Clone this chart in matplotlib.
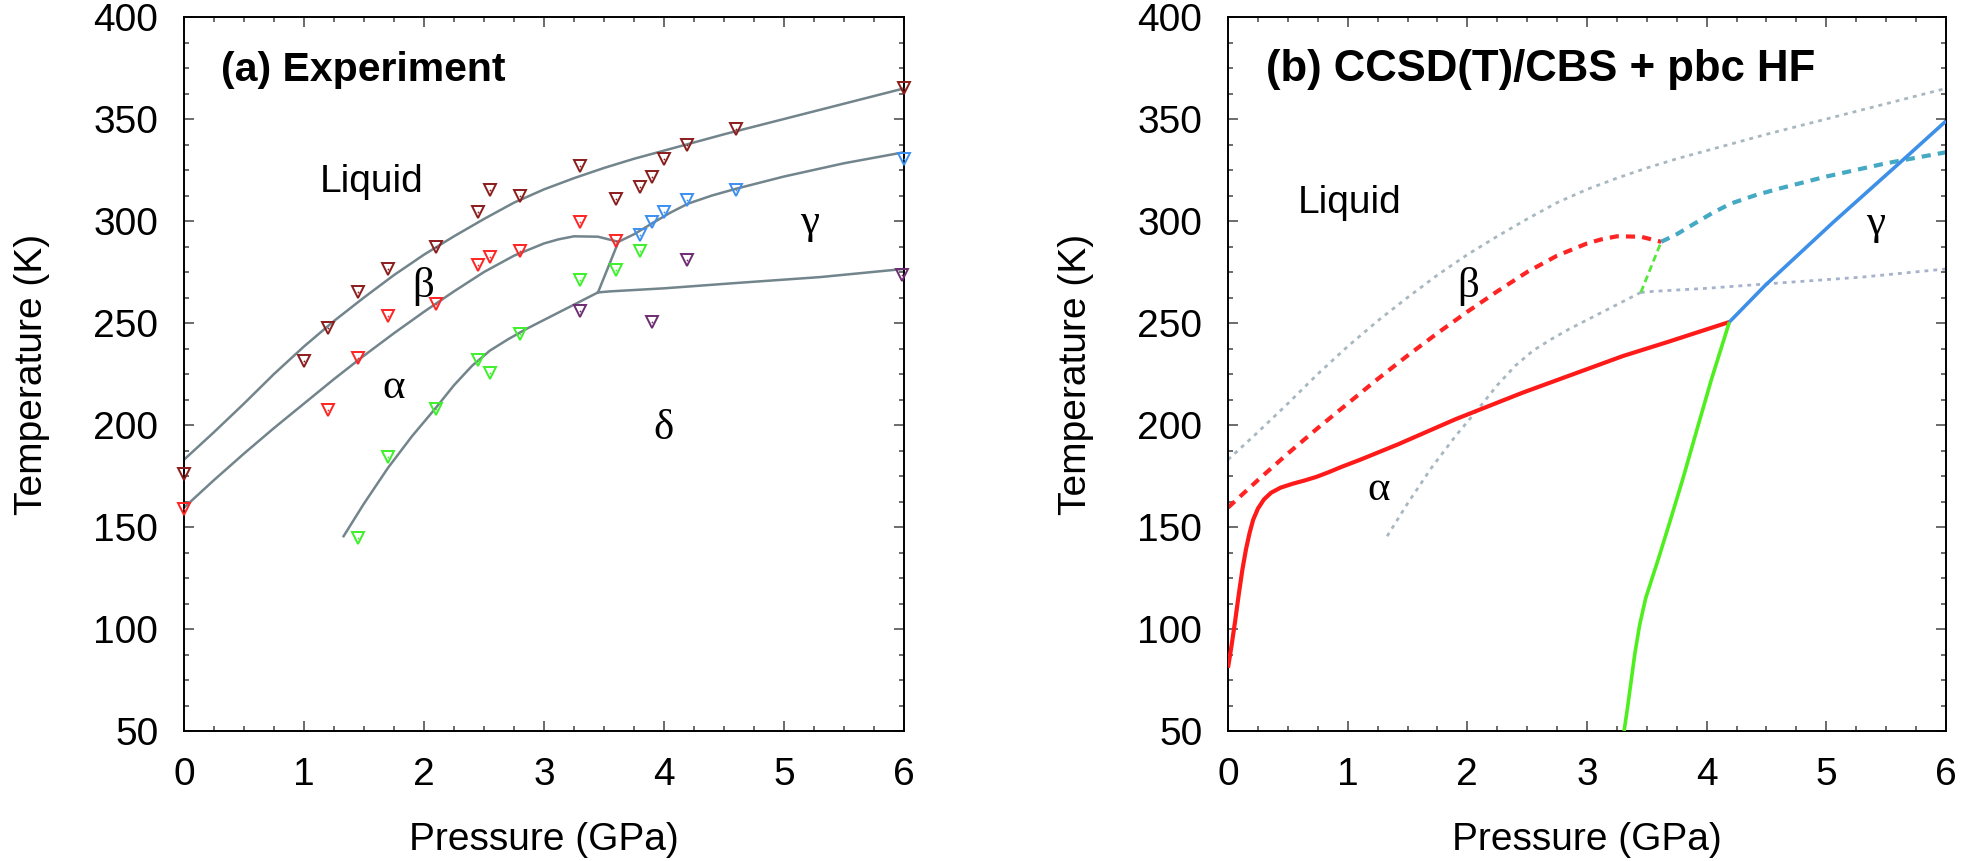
import numpy as np
import matplotlib.pyplot as plt
from matplotlib.ticker import MultipleLocator

# ---- experimental phase boundaries (P in GPa, T in K) ----
liq_P = [0.0, 0.25, 0.5, 0.75, 1.0, 1.25, 1.5, 1.75, 2.0, 2.25, 2.5, 2.75, 3.0,
         3.25, 3.5, 3.75, 4.0, 4.25, 4.5, 5.0, 5.5, 6.0]
liq_T = [183, 196.5, 210.5, 225, 238.5, 251, 262.5, 273.5, 283.5, 292.5, 301, 309, 315.5,
         321, 326, 330.5, 334.5, 338.5, 342.5, 350, 357.5, 365]

beta_P = [0.0, 0.25, 0.5, 0.75, 1.0, 1.25, 1.5, 1.75, 2.0, 2.25, 2.5, 2.75, 3.0, 3.12, 3.25, 3.45, 3.62]
beta_T = [159.5, 173, 186, 198.5, 210.5, 222.5, 234, 245, 255.5, 265.5, 275, 283, 289, 291, 292.5, 292.3, 289.8]

gam_P = [3.62, 3.75, 3.9, 4.05, 4.2, 4.4, 4.6, 5.0, 5.5, 6.0]
gam_T = [289.8, 293.5, 298.8, 304, 308.5, 312.5, 315.8, 321.8, 328.3, 333.7]

alp_P = [1.33, 1.5, 1.7, 1.9, 2.1, 2.25, 2.4, 2.55, 2.7, 2.85, 3.0, 3.15, 3.3, 3.45]
alp_T = [145.5, 161.5, 179, 194.5, 208.5, 219.5, 229, 236.5, 242, 247, 251.5, 256, 260.5, 265]

del_P = [3.45, 3.62]
del_T = [265, 289.8]

hor_P = [3.45, 3.55, 4.0, 4.6, 5.3, 6.0]
hor_T = [265, 265.5, 267, 269.6, 272.5, 276.5]

# ---- experimental points ----
dred_P = [6.0, 4.6, 4.19, 4.0, 3.9, 3.8, 3.6, 3.3, 2.8, 2.55, 2.45, 2.1, 1.7, 1.45, 1.2, 1.0, 0.0]
dred_T = [365, 345.3, 337.1, 330.4, 321.4, 316.5, 310.9, 327.1, 312.1, 315.0, 304.4, 287.3, 276.5, 265.2, 247.4, 231.5, 175.8]

purp_P = [4.19, 5.98, 3.3, 3.9]
purp_T = [281.0, 273.5, 256.1, 250.5]

red_P = [3.3, 3.6, 2.8, 2.55, 2.45, 2.1, 1.7, 1.45, 1.2, 0.0]
red_T = [299.3, 290.0, 285.2, 282.5, 278.3, 259.2, 253.4, 233.0, 207.5, 158.6]

grn_P = [3.8, 3.6, 3.3, 2.8, 2.45, 2.55, 2.1, 1.7, 1.45]
grn_T = [285.1, 276.1, 271.3, 244.8, 231.7, 225.3, 207.7, 184.4, 144.7]

blu_P = [6.0, 4.6, 4.19, 4.0, 3.9, 3.8]
blu_T = [330.4, 315.4, 310.1, 304.4, 299.3, 293.3]

# ---- CCSD(T)/CBS + pbc HF computed boundaries ----
calc_ab_P = [0.0, 0.03, 0.06, 0.09, 0.12, 0.15, 0.18, 0.21, 0.25, 0.3, 0.36, 0.44, 0.54, 0.64,
             0.74, 0.83, 0.95, 1.11, 1.42, 1.9, 2.46, 2.88, 3.3, 3.68, 4.19]
calc_ab_T = [81, 92, 104, 117, 129, 139, 147, 153.5, 159, 163.5, 166.8, 169.3, 171.2, 172.8,
             174.6, 176.6, 179.5, 183.1, 190.5, 202.8, 215.8, 224.8, 233.8, 240.8, 250.5]

calc_ag_P = [3.31, 3.34, 3.37, 3.4, 3.44, 3.49, 3.55, 3.6, 3.7, 3.8, 3.92, 4.04, 4.19]
calc_ag_T = [50, 62, 75, 88, 102, 115, 126, 135, 154, 173.4, 198, 222.4, 250.5]

calc_bg_P = [4.19, 4.49, 5.06, 5.67, 6.0]
calc_bg_T = [250.5, 268.5, 299.5, 331.5, 349]

SANS = ['Liberation Sans', 'DejaVu Sans']
SERIF = ['Liberation Serif', 'DejaVu Serif']
FS = 28
GRAY = '#72848c'

plt.rcParams['font.family'] = SANS

fig = plt.figure(figsize=(19.61, 8.61), dpi=100)
ax1 = fig.add_axes([184/1961, 130/861, 720/1961, 714/861])
ax2 = fig.add_axes([1228/1961, 130/861, 718/1961, 714/861])


def style(ax):
    ax.set_xlim(0, 6)
    ax.set_ylim(50, 400)
    ax.xaxis.set_major_locator(MultipleLocator(1))
    ax.xaxis.set_minor_locator(MultipleLocator(0.25))
    ax.yaxis.set_major_locator(MultipleLocator(50))
    ax.yaxis.set_minor_locator(MultipleLocator(12.5))
    ax.tick_params(which='both', direction='in', top=True, right=True,
                   color='#444444', width=1.1, labelsize=FS, pad=18.5)
    ax.tick_params(which='major', length=7.2)
    ax.tick_params(which='minor', length=3.6)
    for s in ax.spines.values():
        s.set_linewidth(1.4)
    ax.set_xlabel('Pressure (GPa)', fontsize=FS)
    ax.set_ylabel('Temperature (K)', fontsize=FS)
    ax.xaxis.set_label_coords(0.5, -0.127)
    ax.yaxis.set_label_coords(-0.186, 0.5)


def greek(ax, p, t, s):
    ax.text(p, t, s, family=SERIF, fontsize=31, ha='center', va='center')


# ---------------- (a) Experiment ----------------
for P, T in [(liq_P, liq_T), (beta_P, beta_T), (gam_P, gam_T),
             (alp_P, alp_T), (del_P, del_T), (hor_P, hor_T)]:
    ax1.plot(P, T, '-', color=GRAY, lw=1.8, zorder=2)

for P, T, c in [(dred_P, dred_T, '#8b1c1c'), (purp_P, purp_T, '#6e2d72'),
                (red_P, red_T, '#ff2424'), (grn_P, grn_T, '#3cf02a'),
                (blu_P, blu_T, '#3c8ff0')]:
    ax1.plot(P, T, 'v', ms=8.5, mfc='none', mec=c, mew=1.4, clip_on=False, zorder=3)
    ax1.plot(P, T, 'o', ms=1.3, color=c, mew=0, clip_on=False, zorder=3)

ax1.text(0.305, 368.5, '(a) Experiment', fontsize=29.5, fontweight='bold', va='baseline')
ax1.text(1.13, 314, 'Liquid', fontsize=FS, va='baseline')
greek(ax1, 1.99, 268, 'β')
greek(ax1, 1.75, 218.3, 'α')
greek(ax1, 5.21, 299, 'γ')
greek(ax1, 4.0, 198, 'δ')
style(ax1)

# ---------------- (b) CCSD(T)/CBS + pbc HF ----------------
dot = (1.4, 1.8)
ax2.plot(liq_P, liq_T, color='#a8b8c0', lw=2, dashes=dot)
ax2.plot(alp_P, alp_T, color='#a8b8c0', lw=2, dashes=dot)
ax2.plot(hor_P, hor_T, color='#a6b2cc', lw=2, dashes=dot)

ax2.plot(beta_P, beta_T, color='#ff2424', lw=3, dashes=(2.2, 1.7))
ax2.plot(gam_P, gam_T, color='#45a9c4', lw=3, dashes=(2.2, 1.7))
ax2.plot(del_P, del_T, color='#55e83a', lw=2, dashes=(2.5, 1.5))

ax2.plot(calc_ab_P, calc_ab_T, color='#ff1a1a', lw=3, solid_capstyle='butt', zorder=4)
ax2.plot(calc_ag_P, calc_ag_T, color='#4fee1e', lw=2.6, solid_capstyle='butt', zorder=4)
ax2.plot(calc_bg_P, calc_bg_T, color='#3d8fe8', lw=2.6, solid_capstyle='butt', zorder=4)

ax2.text(0.314, 368.5, '(b) CCSD(T)/CBS + pbc HF', fontsize=31.5, fontweight='bold', va='baseline')
ax2.text(0.58, 304, 'Liquid', fontsize=FS, va='baseline')
greek(ax2, 2.01, 268, 'β')
greek(ax2, 1.26, 168.1, 'α')
greek(ax2, 5.41, 298.6, 'γ')
style(ax2)

plt.savefig('out.png', dpi=100)
